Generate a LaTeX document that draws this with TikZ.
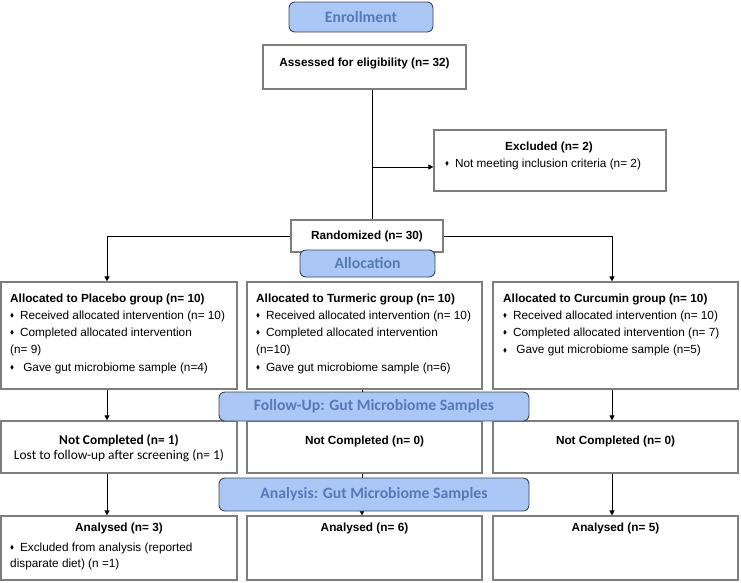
\documentclass[tikz,border=0pt]{standalone}
\usepackage{fontspec}
\usepackage{amssymb}
\setmainfont{Liberation Sans}
\newfontfamily\calfont{Carlito}
\usetikzlibrary{calc,arrows.meta}
\definecolor{bannerfill}{RGB}{170,199,246}
\definecolor{bannertext}{RGB}{86,122,182}
\definecolor{bannerline}{RGB}{60,68,88}
\definecolor{boxline}{RGB}{125,125,125}
\newcommand{\dia}{\raisebox{0.28ex}{\scalebox{0.5}{$\blacklozenge$}}\hspace{0.5em}}
\newcommand{\txtsize}{\fontsize{11.8}{17.3}\selectfont}
\tikzset{
  box/.style={draw=boxline, line width=1.2pt, inner sep=0pt},
  banner/.style={draw=bannerline, fill=bannerfill, line width=0.9pt, rounded corners=6pt,
    inner sep=0pt, text=bannertext, font=\calfont\bfseries\fontsize{15.7}{18}\selectfont},
  txt/.style={inner sep=0pt, align=left, font=\txtsize},
  conn/.style={line width=1pt},
  arr/.style={conn, -{Triangle[length=5pt, width=5pt]}}
}

\begin{document}
\begin{tikzpicture}[x=1pt, y=-1pt]
    \useasboundingbox (0,0) rectangle (741,582);
    % boxes
    \node[box, minimum width=203pt, minimum height=44pt] (assess) at (364.5,67) {};
    \node[box, minimum width=232pt, minimum height=61pt] (excl) at (550,160.5) {};
    \node[box, minimum width=152pt, minimum height=32pt, font=\txtsize\bfseries] (rand) at (367,236) {\raisebox{-2pt}{Randomized (n= 30)}};
    \node[box, minimum width=236pt, minimum height=107pt] (plac) at (119,335.5) {};
    \node[box, minimum width=235pt, minimum height=107pt] (turm) at (364.5,335.5) {};
    \node[box, minimum width=245pt, minimum height=107pt] (curc) at (615.5,335.5) {};
    \node[box, minimum width=236pt, minimum height=52pt] (nc1) at (119,447) {};
    \node[box, minimum width=235pt, minimum height=52pt] (nc2) at (364.5,447) {};
    \node[box, minimum width=245pt, minimum height=52pt] (nc3) at (615.5,447) {};
    \node[box, minimum width=236pt, minimum height=64pt] (an1) at (119,548) {};
    \node[box, minimum width=235pt, minimum height=64pt] (an2) at (364.5,548) {};
    \node[box, minimum width=245pt, minimum height=64pt] (an3) at (615.5,548) {};

    % texts (multi-line nodes sit on their last baseline)
    \node[txt, anchor=base, font=\txtsize\bfseries] (assessT) at (364.5,66) {Assessed for eligibility (n= 32)};
    \node[txt, anchor=base, font=\txtsize\bfseries] (exclT) at (549,150) {Excluded (n= 2)};
    \node[txt, anchor=base west] (exclN) at (445,167) {\dia Not meeting inclusion criteria (n= 2)};
    \node[txt, anchor=base west] (placT) at (10,371.2) {\textbf{Allocated to Placebo group (n= 10)}\\
        \dia Received allocated intervention (n= 10)\\
        \dia Completed allocated intervention\\
        (n= 9)\\
        \dia\ Gave gut microbiome sample (n=4)};
    \node[txt, anchor=base west] (turmT) at (256,371.2) {\textbf{Allocated to Turmeric group (n= 10)}\\
        \dia Received allocated intervention (n= 10)\\
        \dia Completed allocated intervention\\
        (n=10)\\
        \dia Gave gut microbiome sample (n=6)};
    \node[txt, anchor=base west] (curcT) at (503,353.9) {\textbf{Allocated to Curcumin group (n= 10)}\\
        \dia Received allocated intervention (n= 10)\\
        \dia Completed allocated intervention (n= 7)\\
        \dia\ Gave gut microbiome sample (n=5)};
    \node[txt, anchor=base, align=center, font=\calfont\fontsize{13.4}{15}\selectfont] (nc1T) at (119,459) {\textbf{Not Completed (n= 1)}\\Lost to follow-up after screening (n= 1)};
    \node[txt, anchor=base, font=\txtsize\bfseries] (nc2T) at (364.5,444) {Not Completed (n= 0)};
    \node[txt, anchor=base, font=\txtsize\bfseries] (nc3T) at (615.5,444) {Not Completed (n= 0)};
    \node[txt, anchor=base, font=\txtsize\bfseries] (an1T) at (119,531) {Analysed (n= 3)};
    \node[txt, anchor=base west, font=\fontsize{11.8}{16}\selectfont] (an1N) at (10,567) {\dia Excluded from analysis (reported\\disparate diet) (n =1)};
    \node[txt, anchor=base, font=\txtsize\bfseries] (an2T) at (364.5,531) {Analysed (n= 6)};
    \node[txt, anchor=base, font=\txtsize\bfseries] (an3T) at (615.5,531) {Analysed (n= 5)};

    % connectors
    \coordinate (trunk) at (372,167);
    \coordinate (lcol) at (107,0);
    \coordinate (mcol) at (362,0);
    \coordinate (rcol) at (612,0);
    \draw[conn] (trunk |- assess.south) -- (trunk |- rand.north);
    \draw[arr] (trunk) -- (trunk -| excl.west);
    \draw[arr] (rand.west) -| (lcol |- plac.north);
    \draw[arr] (rand.east) -| (rcol |- curc.north);
    \draw[arr] (lcol |- plac.south) -- (lcol |- nc1.north);
    \draw[arr] (lcol |- nc1.south) -- (lcol |- an1.north);
    \draw[arr] (mcol |- turm.south) -- (mcol |- nc2.north);
    \draw[arr] (mcol |- nc2.south) -- (mcol |- an2.north);
    \draw[arr] (rcol |- curc.south) -- (rcol |- nc3.north);
    \draw[arr] (rcol |- nc3.south) -- (rcol |- an3.north);

    % banners
    \node[banner, minimum width=144pt, minimum height=30pt] (enrol) at (361,17) {Enrollment};
    \node[banner, minimum width=135pt, minimum height=27pt] (alloc) at (367.5,263.5) {Allocation};
    \node[banner, minimum width=310pt, minimum height=29pt] (follow) at (374,406.5) {Follow-Up: Gut Microbiome Samples};
    \node[banner, minimum width=310pt, minimum height=33pt] (analys) at (374,494.5) {Analysis: Gut Microbiome Samples};
\end{tikzpicture}
\end{document}
